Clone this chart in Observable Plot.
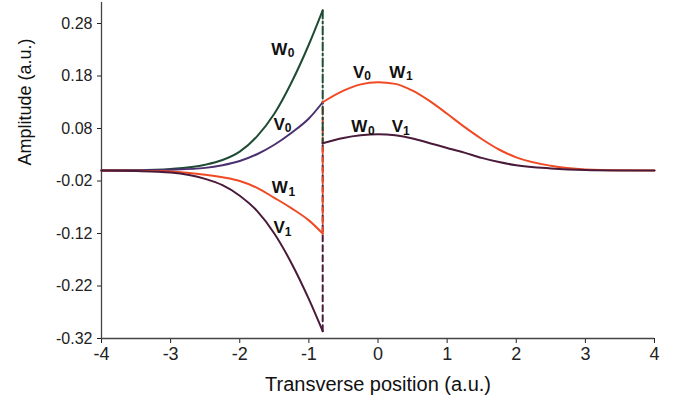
<!DOCTYPE html>
<html>
<head>
<meta charset="utf-8">
<script src="https://cdn.jsdelivr.net/npm/d3@7"></script>
<script src="https://cdn.jsdelivr.net/npm/@observablehq/plot@0.6"></script>
<style>
  html, body { margin: 0; padding: 0; background: #fff; }
  svg { font-family: "Liberation Sans", Arial, sans-serif; }
</style>
</head>
<body>
<div id="chart"></div>
<script>
// x positions
const xLeft = [-4, -3.5, -3, -2.5, -2.25, -2, -1.75, -1.5, -1.25, -1, -0.8];
const xRight = [-0.8, -0.5, -0.25, 0, 0.25, 0.5, 0.75, 1, 1.25, 1.5, 1.75, 2, 2.5, 3, 3.5, 4];

// left-side curves
const w0Left = [0, 0.0005, 0.003, 0.011, 0.02, 0.036, 0.065, 0.108, 0.168, 0.24, 0.305];
const v0Left = [0, 0.0003, 0.0015, 0.005, 0.01, 0.018, 0.031, 0.049, 0.072, 0.099, 0.13];
const w1Left = [0, -0.0005, -0.002, -0.008, -0.013, -0.02, -0.033, -0.052, -0.072, -0.095, -0.12];
const v1Left = [0, -0.001, -0.004, -0.016, -0.028, -0.048, -0.077, -0.12, -0.177, -0.245, -0.306];

// right-side curves
const upperRight = [0.13, 0.152, 0.164, 0.168, 0.165, 0.152, 0.132, 0.108, 0.083, 0.06, 0.04, 0.025, 0.009, 0.002, 0.0003, 0];
const lowerRight = [0.052, 0.062, 0.067, 0.069, 0.067, 0.061, 0.052, 0.043, 0.034, 0.024, 0.016, 0.01, 0.004, 0.001, 0.0002, 0];

// discontinuity at the interface
const jumpX = -0.8;
const jumpW0 = [0.305, 0.052];
const jumpW1 = [-0.12, 0.13];
const jumpV1 = [-0.306, 0.052];

// curve labels
const labelLetters = ["W", "V", "V", "W", "W", "V", "W", "V"];
const labelSubs = ["0", "0", "0", "1", "0", "1", "1", "1"];
const labelX = [-1.43, -1.43, -0.28, 0.28, -0.27, 0.28, -1.42, -1.43];
const labelY = [0.231, 0.088, 0.187, 0.187, 0.083, 0.083, -0.033, -0.109];

const yTicks = [-0.32, -0.22, -0.12, -0.02, 0.08, 0.18, 0.28];
const xTicks = [-4, -3, -2, -1, 0, 1, 2, 3, 4];

const green = "#1f4a33";
const violet = "#4a3070";
const orange = "#f04a25";
const plum = "#4a1a3a";

const series = (xs, ys) => xs.map((x, i) => ({x, y: ys[i]}));
const labels = labelLetters.map((t, i) => ({t, s: labelSubs[i], x: labelX[i], y: labelY[i]}));

const line = (data, color) => Plot.line(data, {x: "x", y: "y", stroke: color, strokeWidth: 2, curve: "monotone-x"});
const jump = (ys, color, dash) => Plot.line(ys.map(y => ({x: jumpX, y})), {x: "x", y: "y", stroke: color, strokeWidth: 2, strokeDasharray: dash});

const chart = Plot.plot({
  width: 680,
  height: 411,
  marginLeft: 101,
  marginRight: 26,
  marginTop: 2,
  marginBottom: 73,
  x: {domain: [-4, 4]},
  y: {domain: [-0.32, 0.32]},
  marks: [
    Plot.axisY({ticks: yTicks, tickFormat: d => d.toFixed(2), tickSize: 4, tickPadding: 5, fontSize: 16, label: null, color: "#222"}),
    Plot.axisX({ticks: xTicks, tickFormat: d => String(d), tickSize: 5, tickPadding: 4, fontSize: 18, label: null, color: "#222"}),
    Plot.ruleX([-4], {stroke: "#444", strokeWidth: 1.3}),
    Plot.ruleY([-0.32], {stroke: "#444", strokeWidth: 1.3}),
    Plot.text(["Amplitude (a.u.)"], {frameAnchor: "left", rotate: -90, dx: -76, dy: -5, fontSize: 18, fill: "#111"}),
    Plot.text(["Transverse position (a.u.)"], {frameAnchor: "bottom", dy: 52, fontSize: 20, fill: "#111"}),
    jump(jumpV1, plum, "6,4"),
    jump(jumpW1, orange, "6,4"),
    jump(jumpW0, green, "8,3,2,3"),
    line(series(xLeft, w0Left), green),
    line(series(xLeft, v0Left), violet),
    line(series(xLeft, w1Left), orange),
    line(series(xLeft, v1Left), plum),
    line(series(xRight, upperRight), orange),
    line(series(xRight, lowerRight), plum),
    Plot.text(labels, {x: "x", y: "y", text: "t", fontSize: 17, fontWeight: "bold", fill: "#111"}),
    Plot.text(labels, {filter: d => d.t === "W", x: "x", y: "y", text: "s", fontSize: 12, fontWeight: "bold", fill: "#111", dx: 12, dy: 4}),
    Plot.text(labels, {filter: d => d.t === "V", x: "x", y: "y", text: "s", fontSize: 12, fontWeight: "bold", fill: "#111", dx: 9, dy: 4})
  ]
});
document.getElementById("chart").appendChild(chart);
</script>
</body>
</html>
